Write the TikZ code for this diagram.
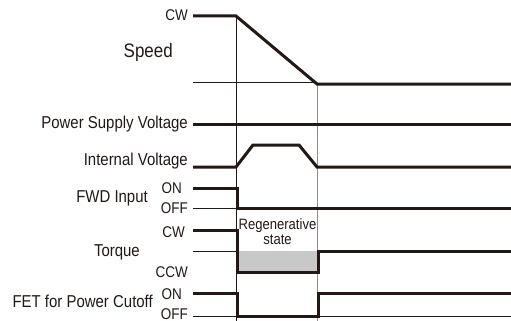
\documentclass[tikz,border=0pt]{standalone}
\usepackage{fontspec}
\setmainfont{Liberation Sans}[FakeStretch=0.87]
\usepackage{tikz}

\definecolor{ink}{HTML}{231815}
\definecolor{regen}{HTML}{C8C8C8}
\definecolor{markgray}{HTML}{8C8C8C}

\begin{document}
\begin{tikzpicture}[x=1pt, y=-1pt,
    sig/.style={line width=3pt, line join=miter, color=ink},
    ref/.style={line width=0.8pt, color=ink},
    lbl/.style={anchor=base east, inner sep=0pt, text=ink, font=\fontsize{17.2}{17.2}\selectfont},
    lvl/.style={anchor=base east, inner sep=0pt, text=ink, font=\fontsize{15.5}{15.5}\selectfont}]
    \useasboundingbox (0,0) rectangle (511,321);

    % labels
    \node[lvl] at (188, 21) (spdcw) {CW};
    \node[lbl, font=\fontsize{19.5}{19.5}\selectfont] at (173, 57) (spd) {Speed};
    \node[lbl] at (188, 128) (psv) {Power Supply Voltage};
    \node[lbl] at (188, 165) (iv) {Internal Voltage};
    \node[lbl] at (148, 202) (fwd) {FWD Input};
    \node[lvl] at (182, 193) (fwdon) {ON};
    \node[lvl] at (188, 213) (fwdoff) {OFF};
    \node[lbl] at (140, 256) (trq) {Torque};
    \node[lvl] at (185, 237) (trqcw) {CW};
    \node[lvl] at (188, 277) (trqccw) {CCW};
    \node[lbl] at (153, 307) (fet) {FET for Power Cutoff};
    \node[lvl] at (182, 299) (feton) {ON};
    \node[lvl] at (188, 319.2) (fetoff) {OFF};

    % regenerative area
    \fill[regen] (237, 251) rectangle (318, 272);
    \node[anchor=base, inner sep=0pt, text=ink, font=\fontsize{15}{15}\selectfont] at (277.5, 229) (regen1) {Regenerative};
    \node[anchor=base, inner sep=0pt, text=ink, font=\fontsize{15}{15}\selectfont] at (277.5, 244) (regen2) {state};

    % time marks
    \draw[ref] (236.5, 16) -- (236.5, 321);
    \draw[line width=0.8pt, markgray] (317.5, 83) -- (317.5, 321);

    % reference levels
    \draw[ref] (193, 82) -- (317, 82);
    \draw[ref] (193, 208) -- (237, 208);
    \draw[ref] (193, 251) -- (237, 251);
    \draw[ref] (193, 316.5) -- (511, 316.5);

    % signals
    \draw[sig] (193, 16) -- (236, 16) -- (317, 84) -- (511, 84);
    \draw[sig] (193, 124) -- (511, 124);
    \draw[sig] (193, 167) -- (236, 167) -- (253, 145) -- (299, 145) -- (317, 167) -- (511, 167);
    \draw[sig] (193, 188) -- (237, 188) -- (237, 208) -- (511, 208);
    \draw[sig] (193, 230) -- (237, 230) -- (237, 272) -- (318, 272) -- (318, 251) -- (511, 251);
    \draw[sig] (193, 293) -- (237, 293) -- (237, 316) -- (318, 316) -- (318, 293) -- (511, 293);
\end{tikzpicture}
\end{document}
